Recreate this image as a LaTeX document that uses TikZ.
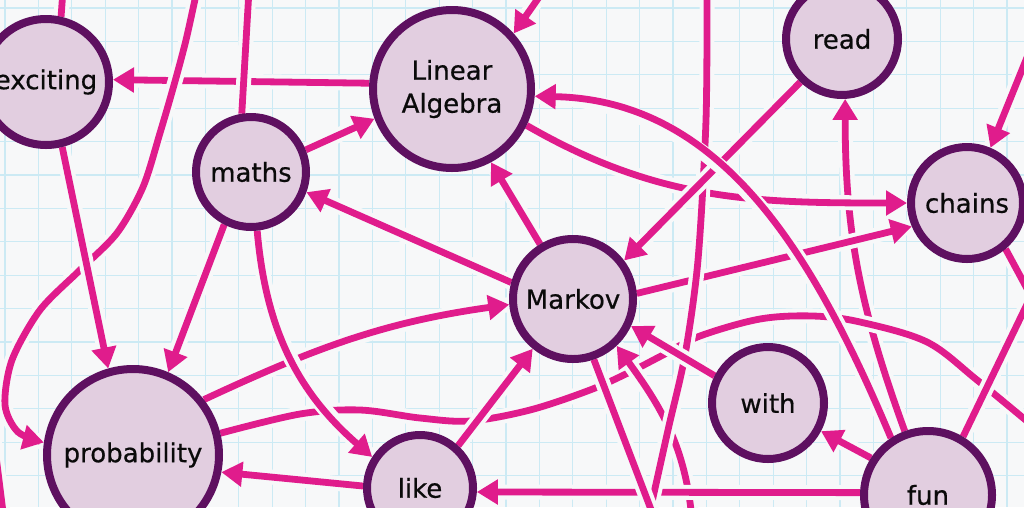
\documentclass[tikz,border=0pt]{standalone}
\usepackage{fontspec}
\setmainfont{DejaVu Sans}
\newfontfamily\labelfont{DejaVu Sans}[RawFeature={embolden=0.6}]
\usetikzlibrary{arrows.meta}
\pgfdeclarelayer{bg}
\pgfdeclarelayer{edges}
\pgfsetlayers{bg,edges,main}
\definecolor{bgc}{RGB}{247,248,249}
\definecolor{gridc}{RGB}{204,234,244}
\definecolor{edgec}{RGB}{224,28,140}
\definecolor{nodefill}{RGB}{226,206,224}
\definecolor{nodeborder}{RGB}{94,16,96}
\definecolor{textc}{RGB}{10,10,10}
\begin{document}
\begin{tikzpicture}[x=1pt,y=-1pt,
  concept/.style={circle, draw=nodeborder, line width=8pt, fill=nodefill, inner sep=0pt,
    text=textc, font=\labelfont\fontsize{26}{33}\selectfont, align=center},
  link/.style={draw=edgec, line width=6.8pt, preaction={draw=bgc, line width=15pt, arrows=-}},
  arr/.style={link, -{Triangle[length=21pt,width=24pt]}},
  gridline/.style={draw=gridc, line width=1.2pt}
]
\useasboundingbox (0,0) rectangle (1024,507);
\begin{pgfonlayer}{bg}
\fill[bgc] (0,0) rectangle (1024,507);
\foreach \i in {0,...,30} \draw[gridline] ({5+33.4*\i},0) -- ({5+33.4*\i},507);
\foreach \j in {0,...,15} \draw[gridline] (0,{8+33.4*\j}) -- (1024,{8+33.4*\j});
\end{pgfonlayer}

% nodes
\node[concept, minimum size=126pt] (exciting) at (46,82) {exciting};
\node[concept, minimum size=110pt] (maths) at (251,172) {maths};
\node[concept, minimum size=158pt] (LA) at (452,89) {Linear\\Algebra};
\node[concept, minimum size=112pt] (read) at (842,39) {read};
\node[concept, minimum size=112pt] (chains) at (967,203) {chains};
\node[concept, minimum size=120pt] (Markov) at (573,299) {Markov};
\node[concept, minimum size=112pt] (with) at (768,403) {with};
\node[concept, minimum size=128pt] (fun) at (928,495) {fun};
\node[concept, minimum size=106pt] (like) at (420,488) {like};
\node[concept, minimum size=172pt] (prob) at (133,455) {probability};

% free ends
\coordinate (topV) at (707,-10);
\coordinate (botV) at (648,520);
\coordinate (botM) at (655,520);
\coordinate (botB) at (692,520);
\coordinate (topP) at (197,-10);
\coordinate (topM) at (249,-10);
\coordinate (topE) at (63,-10);
\coordinate (topL) at (544,-10);
\coordinate (topC) at (1030,50);
\coordinate (rbend) at (1031,296);
\coordinate (rlong) at (1040,432);
\coordinate (leftA) at (-6,440);
\coordinate (leftB) at (4,520);

\begin{pgfonlayer}{edges}
\draw[arr] (fun.110) to[out=110,in=-90] (read.-87);
\draw[arr] (LA.176) -- (exciting.2);
\draw[link] plot[smooth, tension=0.55] coordinates {(prob.14) (300,414) (360,410) (420,418) (470,421) (530,410) (590,390) (630,372) (663,355) (700,336) (760,319) (813,316) (860,322) (927,342) (977,380) (rlong)};
\draw[arr] (LA.-26) to[out=-30,in=180] (chains.180);
\draw[arr] (Markov.5) -- (chains.203);
\draw[arr] (botB) to[out=95,in=-54] (Markov.-47);
\draw[arr] (fun.178) -- (like.-4);
\draw[link] plot[smooth] coordinates {(topV) (706,120) (698,260) (685,355) (668,430) (botV)};
\draw[arr] (read.226) -- (Markov.37);
\draw[arr] (fun.123) .. controls (812,250) and (720,100) .. (LA.-5);
\draw[link] (Markov.-71) -- (botM);
\draw[arr] (with.153) -- (Markov.-25);
\draw[arr] (prob.38) to[out=25,in=188] (Markov.185);
\draw[arr] (maths.-84) to[out=-85,in=139] (like.147);
\draw[arr] (like.48) -- (Markov.231);
\draw[arr] plot[smooth] coordinates {(topP) (186,40) (174,85) (160,133) (143,187) (117,233) (80,270) (40,310) (12,360) (5,405) (18,432) (prob.172)};
\draw[arr] (exciting.-76) -- (prob.106);
\draw[link] (topM) -- (maths.99);
\draw[link] (topE) -- (exciting.77);
\draw[arr] (maths.22) -- (LA.201);
\draw[arr] (Markov.165) -- (maths.-20);
\draw[arr] (Markov.121) -- (LA.-62);
\draw[arr] (maths.243) -- (prob.67);
\draw[arr] (like.178) -- (prob.-11);
\draw[arr] (fun.147) -- (with.-28);
\draw[link] (chains.-50) -- (rbend) -- (fun.59);
\draw[arr] (topL) -- (LA.42);
\draw[arr] (topC) -- (chains.67);
\draw[link] (leftA) -- (leftB);
\end{pgfonlayer}
\end{tikzpicture}
\end{document}
